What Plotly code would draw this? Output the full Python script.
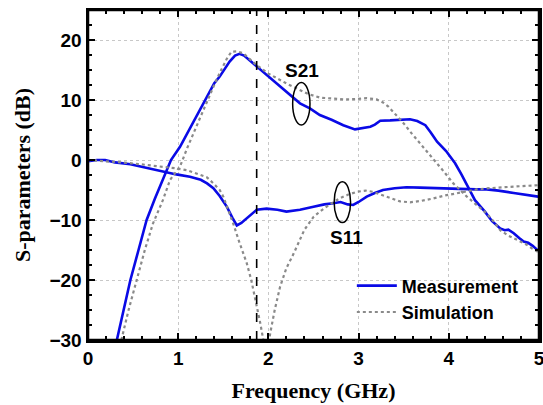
import plotly.graph_objects as go

# ---- data ----
meas_s21_x = [0.32, 0.40, 0.47, 0.56, 0.65, 0.74, 0.83, 0.92, 1.02, 1.16, 1.30, 1.40, 1.46, 1.57, 1.63,
              1.68, 1.73, 1.80, 1.87, 1.96, 2.05, 2.15, 2.24, 2.35, 2.46, 2.57, 2.70, 2.83, 2.96, 3.05,
              3.13, 3.18, 3.24, 3.35, 3.46, 3.57, 3.65, 3.74, 3.80, 3.87, 3.97, 4.07, 4.14, 4.20, 4.29,
              4.40, 4.48, 4.57, 4.62, 4.66, 4.72, 4.78, 4.83, 4.88, 4.93, 4.99]
meas_s21_y = [-30, -24.5, -20, -15, -10, -6.5, -3.2, 0, 2.2, 6.2, 10, 12.8, 13.9, 16.4, 17.4,
              17.7, 17.4, 16.5, 15.55, 14.5, 13.3, 12, 10.8, 9.45, 8.6, 7.5, 6.7, 5.8, 5.1, 5.4,
              5.55, 5.9, 6.55, 6.6, 6.67, 6.8, 6.5, 5.8, 4.6, 3.05, 1.5, -0.55, -2.4, -4.2, -6.7,
              -8.6, -10.2, -11.4, -11.7, -11.6, -12.2, -13.0, -13.6, -13.8, -14.3, -15.1]

meas_s11_x = [0.00, 0.10, 0.19, 0.30, 0.47, 0.65, 0.83, 0.98, 1.13, 1.25, 1.32, 1.39, 1.46, 1.54, 1.60,
              1.65, 1.70, 1.76, 1.87, 1.98, 2.10, 2.20, 2.35, 2.50, 2.62, 2.72, 2.80, 2.88, 2.94, 3.00,
              3.09, 3.18, 3.27, 3.40, 3.53, 3.68, 3.83, 4.00, 4.12, 4.30, 4.42, 4.55, 4.72, 4.85, 4.99]
meas_s11_y = [-0.2, 0, 0, -0.4, -0.7, -1.3, -1.95, -2.4, -2.8, -3.3, -3.9, -4.7, -6.0, -7.8, -9.6,
              -10.9, -10.5, -9.7, -8.3, -8.1, -8.3, -8.6, -8.3, -7.8, -7.4, -7.2, -7.0, -7.4, -7.5, -7.0,
              -6.1, -5.5, -5.0, -4.7, -4.55, -4.6, -4.7, -4.8, -4.9, -4.9, -4.9, -5.1, -5.5, -5.8, -6.1]

sim_s21_x = [0.37, 0.45, 0.54, 0.63, 0.72, 0.83, 0.91, 1.02, 1.10, 1.20, 1.30, 1.39, 1.47, 1.54, 1.59,
             1.65, 1.72, 1.80, 1.87, 2.00, 2.13, 2.22, 2.31, 2.44, 2.57, 2.70, 2.83, 2.96, 3.09, 3.20,
             3.27, 3.33, 3.42, 3.50, 3.59, 3.68, 3.78, 3.87, 3.96, 4.05, 4.12, 4.20, 4.27, 4.42, 4.50,
             4.57, 4.66, 4.75, 4.85, 4.92, 4.99]
sim_s21_y = [-30, -25, -20, -15, -10.6, -6.7, -3.3, -1.1, 2, 5.55, 9, 12.2, 14.8, 16.9, 18.05,
             18.1, 17.8, 16.8, 15.8, 14.4, 13.3, 12.6, 11.95, 11, 10.4, 10.2, 10.1, 10.15, 10.3, 10.1,
             9.6, 8.9, 7.5, 6.1, 4.4, 2.8, 1.1, -0.55, -2.2, -3.9, -5, -6.1, -7.0, -8.9, -10.3,
             -11.7, -12.6, -13.3, -14.0, -14.7, -15.3]

sim_s11_x = [0.00, 0.28, 0.45, 0.65, 0.85, 0.98, 1.10, 1.20, 1.32, 1.39, 1.46, 1.50, 1.55, 1.61, 1.68,
             1.76, 1.81, 1.85, 1.91, 1.94, 1.97, 2.00, 2.02, 2.07, 2.13, 2.20, 2.28, 2.40, 2.50, 2.57,
             2.68, 2.79, 2.88, 2.98, 3.08, 3.16, 3.25, 3.35, 3.46, 3.57, 3.70, 3.83, 3.96, 4.09, 4.20,
             4.31, 4.45, 4.57, 4.75, 4.99]
sim_s11_y = [0, -0.28, -0.5, -0.83, -1.1, -1.4, -1.7, -2.2, -2.9, -3.9, -5.0, -6.1, -8, -10.6, -13.8,
             -17.2, -20, -22.8, -27.2, -29.7, -32, -31, -28.9, -25, -21.1, -18, -15.6, -11.6, -9.5, -8.6,
             -7.4, -6.4, -5.8, -5.3, -5.1, -5.3, -5.8, -6.4, -6.9, -7.05, -6.8, -6.4, -5.9, -5.55, -5.2,
             -4.9, -4.7, -4.55, -4.4, -4.2]

x_range = [0, 5]
y_range = [-30, 25]
x_major, x_minor = 1, 0.2
y_major, y_minor = 10, 2.5
marker_freq = 1.87
s21_label = dict(text="S21", x=2.37, y=15.0)
s11_label = dict(text="S11", x=2.87, y=-12.9)
s21_ellipse = dict(x=2.365, y=9.37, rx=0.096, ry=3.53)
s11_ellipse = dict(x=2.82, y=-7.03, rx=0.091, ry=3.4)

BLUE = "#0a0ae6"
GRAY = "#8a8a8a"
SANS = "Arial, Liberation Sans, sans-serif"
SERIF = "Times New Roman, Liberation Serif, serif"

fig = go.Figure()
fig.add_trace(go.Scatter(x=meas_s21_x, y=meas_s21_y, mode="lines", name="Measurement",
                         line=dict(color=BLUE, width=2.6), legendrank=1))
fig.add_trace(go.Scatter(x=meas_s11_x, y=meas_s11_y, mode="lines", name="Measurement",
                         line=dict(color=BLUE, width=2.6), showlegend=False))
fig.add_trace(go.Scatter(x=sim_s21_x, y=sim_s21_y, mode="lines", name="Simulation",
                         line=dict(color=GRAY, width=2.2, dash="dot"), legendrank=2))
fig.add_trace(go.Scatter(x=sim_s11_x, y=sim_s11_y, mode="lines", name="Simulation",
                         line=dict(color=GRAY, width=2.2, dash="dot"), showlegend=False))

fig.add_shape(type="line", xref="x", yref="paper", x0=marker_freq, x1=marker_freq, y0=0, y1=1,
              line=dict(color="black", width=1.6, dash="dash"))
for e in (s21_ellipse, s11_ellipse):
    fig.add_shape(type="circle", xref="x", yref="y",
                  x0=e["x"] - e["rx"], x1=e["x"] + e["rx"], y0=e["y"] - e["ry"], y1=e["y"] + e["ry"],
                  line=dict(color="black", width=1.5))

# plot frame, drawn as four data-referenced line shapes along the axis ranges
frame_line = dict(color="black", width=2.5)
for yv in y_range:
    fig.add_shape(type="line", xref="x", yref="y", x0=x_range[0], x1=x_range[1], y0=yv, y1=yv,
                  line=frame_line, layer="above")
for xv in x_range:
    fig.add_shape(type="line", xref="x", yref="y", x0=xv, x1=xv, y0=y_range[0], y1=y_range[1],
                  line=frame_line, layer="above")

for lab in (s21_label, s11_label):
    fig.add_annotation(x=lab["x"], y=lab["y"], text=lab["text"], showarrow=False,
                       font=dict(family=SANS, size=19, color="black", weight="bold"))

axis_style = dict(showline=True, linecolor="black", linewidth=2.5, mirror="ticks",
                  ticks="inside", ticklen=7, tickwidth=2, tickcolor="black",
                  showgrid=True, gridcolor="#c8c8c8", griddash="dot", gridwidth=1, zeroline=False,
                  ticklabeloverflow="allow",
                  tickfont=dict(family=SANS, size=19, color="black", weight="bold"))

fig.update_xaxes(range=x_range, tickmode="linear", tick0=0, dtick=x_major,
                 minor=dict(tickmode="linear", tick0=0, dtick=x_minor, ticks="inside", ticklen=4,
                            tickwidth=2, tickcolor="black", showgrid=False),
                 title=dict(text="Frequency (GHz)", standoff=15,
                            font=dict(family=SERIF, size=22, color="black", weight="bold")),
                 **axis_style)
fig.update_yaxes(range=y_range, tickmode="linear", tick0=0, dtick=y_major,
                 minor=dict(tickmode="linear", tick0=0, dtick=y_minor, ticks="inside", ticklen=4,
                            tickwidth=2, tickcolor="black", showgrid=False),
                 title=dict(text="S-parameters (dB)", standoff=13,
                            font=dict(family=SERIF, size=22, color="black", weight="bold")),
                 **axis_style)

fig.update_layout(
    width=543, height=405,
    margin=dict(l=88, r=4, t=10, b=65, autoexpand=False),
    paper_bgcolor="white", plot_bgcolor="white",
    dragmode=False, hovermode=False,
    showlegend=True,
    legend=dict(x=0.585, y=0.22, xanchor="left", yanchor="top", bgcolor="rgba(0,0,0,0)",
                borderwidth=0, font=dict(family=SANS, size=18, color="black", weight="bold"),
                itemwidth=40, tracegroupgap=0),
)

fig.write_html("out.html", config={"displayModeBar": False, "staticPlot": True})
with open("out.html", encoding="utf-8") as f:
    html = f.read()
html = html.replace("<head>", "<head><style>html,body{margin:0;padding:0;overflow:hidden;}</style>", 1)
with open("out.html", "w", encoding="utf-8") as f:
    f.write(html)
